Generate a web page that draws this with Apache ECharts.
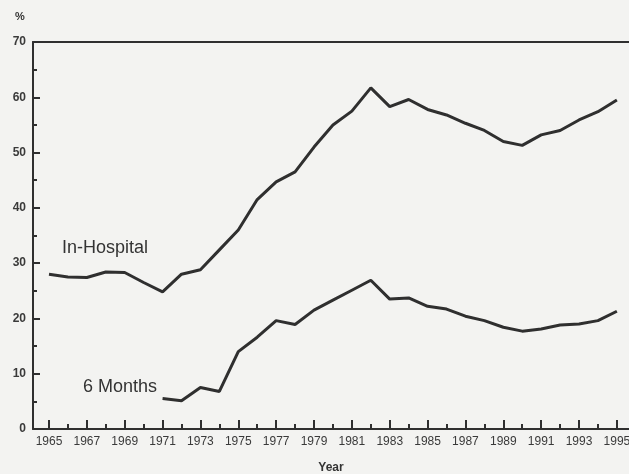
<!DOCTYPE html>
<html>
<head>
<meta charset="utf-8">
<script src="https://cdn.jsdelivr.net/npm/echarts@6/dist/echarts.min.js"></script>
<style>
html,body{margin:0;padding:0;background:#f3f3f1;}
#chart{width:629px;height:474px;}
</style>
</head>
<body>
<div id="chart"></div>
<script>
var years = [1965,1966,1967,1968,1969,1970,1971,1972,1973,1974,1975,1976,1977,1978,1979,1980,1981,1982,1983,1984,1985,1986,1987,1988,1989,1990,1991,1992,1993,1994,1995];
var inHospital = [28.0,27.5,27.4,28.4,28.3,26.5,24.8,28.0,28.8,32.4,36.0,41.5,44.7,46.5,51.0,55.0,57.5,61.7,58.3,59.6,57.8,56.8,55.3,54.0,52.0,51.3,53.2,54.0,55.9,57.4,59.5];
var sixMonthYears = [1971,1972,1973,1974,1975,1976,1977,1978,1979,1980,1981,1982,1983,1984,1985,1986,1987,1988,1989,1990,1991,1992,1993,1994,1995];
var sixMonths = [5.5,5.1,7.5,6.8,14.0,16.6,19.6,18.9,21.5,23.3,25.1,26.9,23.5,23.7,22.2,21.7,20.4,19.6,18.4,17.7,18.1,18.8,19.0,19.6,21.3];
var majorTicks = [1965,1967,1969,1971,1973,1975,1977,1979,1981,1983,1985,1987,1989,1991,1993,1995];
var minorTicks = [1966,1968,1970,1972,1974,1976,1978,1980,1982,1984,1986,1988,1990,1992,1994];
var seriesNames = ['In-Hospital', '6 Months'];

var ink = '#2f2f2f';
var chart = echarts.init(document.getElementById('chart'), null, {renderer:'canvas'});
var xMin = 1964.155, xMax = 1995.64;
chart.setOption({
  backgroundColor: '#f3f3f1',
  animation: false,
  grid: {left: 33, right: 0, top: 42, bottom: 45, containLabel: false, outerBoundsMode: 'none'},
  xAxis: [
    {
      type: 'value', min: xMin, max: xMax, position: 'bottom',
      name: 'Year', nameLocation: 'middle', nameGap: 33,
      nameTextStyle: {fontFamily: 'Liberation Sans', fontSize: 12, fontWeight: 'bold', color: '#333'},
      axisLine: {show: true, lineStyle: {color: ink, width: 2}},
      axisTick: {show: true, inside: true, length: 9, customValues: majorTicks, lineStyle: {color: ink, width: 2}},
      axisLabel: {show: true, customValues: majorTicks, margin: 7, fontFamily: 'Liberation Sans', fontSize: 12, color: '#3a3a3a', formatter: function(v){return String(v);}},
      splitLine: {show: false}
    },
    {
      type: 'value', min: xMin, max: xMax, position: 'bottom',
      axisLine: {show: false},
      axisTick: {show: true, inside: true, length: 5, customValues: minorTicks, lineStyle: {color: ink, width: 2}},
      axisLabel: {show: false},
      splitLine: {show: false}
    },
    {
      type: 'value', min: xMin, max: xMax, position: 'top',
      axisLine: {show: true, lineStyle: {color: ink, width: 2}},
      axisTick: {show: false}, axisLabel: {show: false}, splitLine: {show: false}
    }
  ],
  yAxis: {
    type: 'value', min: 0, max: 70, interval: 10,
    axisLine: {show: true, lineStyle: {color: ink, width: 2}},
    axisTick: {show: true, inside: true, length: 7, lineStyle: {color: ink, width: 2}},
    minorTick: {show: true, splitNumber: 2, length: 4, lineStyle: {color: ink, width: 2}},
    axisLabel: {margin: 7, fontFamily: 'Liberation Sans', fontSize: 12, color: '#3a3a3a', fontWeight: 'bold'},
    splitLine: {show: false}
  },
  graphic: [
    {type: 'text', left: 15, top: 11, style: {text: '%', font: 'bold 11px "Liberation Sans"', fill: '#333'}},
    {type: 'text', left: 62, top: 239, style: {text: seriesNames[0], font: '18px "Liberation Sans"', fill: '#333'}},
    {type: 'text', left: 83, top: 378, style: {text: seriesNames[1], font: '18px "Liberation Sans"', fill: '#333'}}
  ],
  series: [
    {
      name: seriesNames[0], type: 'line', xAxisIndex: 0,
      data: years.map(function(y,i){return [y, inHospital[i]];}),
      showSymbol: false, lineStyle: {color: ink, width: 3}, itemStyle: {color: ink}
    },
    {
      name: seriesNames[1], type: 'line', xAxisIndex: 0,
      data: sixMonthYears.map(function(y,i){return [y, sixMonths[i]];}),
      showSymbol: false, lineStyle: {color: ink, width: 3}, itemStyle: {color: ink}
    }
  ]
});
</script>
</body>
</html>
